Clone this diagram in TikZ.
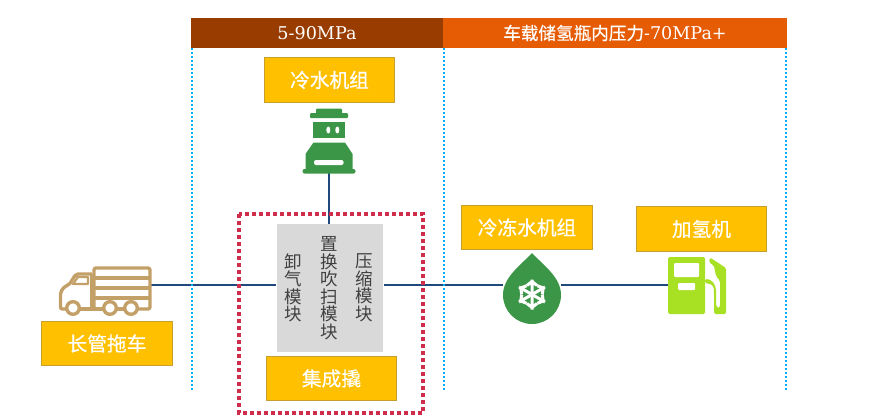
\documentclass[tikz,border=0pt]{standalone}
\usepackage{fontspec}
\setmainfont{DejaVu Serif}
\newfontfamily\cjk{Noto Sans CJK SC}
\newfontfamily\cjkheavy[FakeBold=0.5]{Noto Sans CJK SC}
\definecolor{headbrown}{HTML}{993C00}
\definecolor{headorange}{HTML}{E65C05}
\definecolor{labelgold}{HTML}{FFC000}
\definecolor{labeledge}{HTML}{C5A02E}
\definecolor{dotblue}{HTML}{00B0F0}
\definecolor{pipeblue}{HTML}{1F497D}
\definecolor{skidred}{HTML}{D02C4C}
\definecolor{modgray}{HTML}{D9D9D9}
\definecolor{iconpine}{HTML}{3C9648}
\definecolor{iconlime}{HTML}{A8E024}
\definecolor{icontan}{HTML}{C4A069}
\begin{document}
\begin{tikzpicture}[x=1pt,y=-1pt,
    headbar/.style={minimum height=30pt,inner sep=0pt,text=white,font=\fontsize{17.6}{18}\selectfont},
    label/.style={draw=labeledge,line width=1pt,fill=labelgold,inner sep=0pt,text=white,minimum height=45pt,minimum width=130pt,font=\cjkheavy\fontsize{19.7}{20}\selectfont},
    modtext/.style={inner sep=0pt,align=center,text=black!75,font=\cjk\fontsize{17.5}{17.5}\selectfont},
    icon/.style={inner sep=0pt,minimum width=#1,minimum height=62pt},
    pipe/.style={draw=pipeblue,line width=2.2pt},
    zone/.style={draw=dotblue,line width=2pt,dash pattern=on 2pt off 2pt}]
    \useasboundingbox (0,0) rectangle (871,418);
    % Header bars
    \node[headbar,fill=headbrown,minimum width=252pt] (lowbar) at (317,33) {5-90MPa};
    \node[headbar,fill=headorange,minimum width=344pt] (highbar) at (615,33) {{\cjkheavy 车载储氢瓶内压力}-70MPa+};
    % Module block and icon anchors
    \node[fill=modgray,inner sep=0pt,minimum width=106pt,minimum height=128pt] (modules) at (330,288) {};
    \node[modtext] (unload) at (293,288) {卸\\气\\模\\块};
    \node[modtext] (purge) at (329,288) {置\\换\\吹\\扫\\模\\块};
    \node[modtext] (compress) at (364,288) {压\\缩\\模\\块};
    \node[icon=92pt] (truck) at (105,285) {};
    \node[icon=58pt] (drop) at (532,285) {};
    \node[icon=58pt] (pump) at (697,285) {};
    \node[inner sep=0pt,minimum width=52pt,minimum height=65pt] (chiller) at (329,140.5) {};
    % Pipes
    \draw[pipe] (chiller.south) -- (chiller.south |- modules.north);
    \draw[pipe] (truck.east) -- ([xshift=-1pt]truck.east -| modules.west);
    \draw[pipe] ([xshift=1pt]truck.east -| modules.east) -- (drop.west);
    \draw[pipe] (drop.east) -- (pump.west);
    % Zone lines and skid outline
    \draw[zone] (lowbar.south west) ++(1,0) -- ++(0,343);
    \draw[zone] (lowbar.south east) ++(1,0) -- ++(0,343);
    \draw[zone] (highbar.south east) ++(-1,0) -- ++(0,343);
    \draw[skidred,line width=4pt,dash pattern=on 4pt off 3pt] (238.5,214) rectangle (422.5,413);
    % Labels
    \node[label] (chillerlabel) at (329.5,80) {冷水机组};
    \node[label,minimum height=44pt] (skidlabel) at (331.5,378.5) {集成撬};
    \node[label,minimum height=44pt,minimum width=131pt] (trucklabel) at (107,343.5) {长管拖车};
    \node[label,minimum height=44pt,minimum width=131pt] (freezerlabel) at (527,227.5) {冷冻水机组};
    \node[label] (pumplabel) at (701.5,229) {加氢机};
    % Chiller icon
    \fill[iconpine,rounded corners=1pt] (316,108.5) rectangle (342,114) (310,113) rectangle (348,118);
    \fill[iconpine] (313,122) rectangle (345,138);
    \fill[white] (328.3,130) ellipse (2 and 3.5) (337.3,130) ellipse (2 and 3.5);
    \fill[iconpine] (313.5,142.5) -- (345,142.5) -- (352.5,154) -- (352.5,170) -- (305.5,170) -- (305.5,154) -- cycle;
    \fill[iconpine,rounded corners=2pt] (302.5,169) rectangle (355.5,173.5);
    \fill[white,rounded corners=2pt] (314,160) rectangle (343.5,165);
    % Truck icon
    \begin{scope}[icontan,line width=3.4pt,line join=round]
        \draw[rounded corners=2pt] (94,268) rectangle (150,309);
        \draw (94,278) -- (150,278) (94,288) -- (150,288) (94,298) -- (150,298);
        \draw[rounded corners=2pt] (92,274) -- (76,274) -- (69,285) -- (65,286) -- (60.5,292) -- (60.5,309) -- (66,309);
        \draw (92,274) -- (92,309) (80,309) -- (104,309) (117,309) -- (124,309);
        \draw[line width=2.2pt] (73,284) -- (78,277) -- (88,277) -- (88,284) -- cycle;
        \draw[fill=white] (73,308) circle (6.3) (110,308) circle (6.3) (131,308) circle (6.3);
    \end{scope}
    % Drop icon
    \fill[iconpine] (532,253) .. controls (521,265) and (503,277) .. (503,295)
        .. controls (503,311) and (516,324) .. (532,324)
        .. controls (548,324) and (561,311) .. (561,295)
        .. controls (561,277) and (543,265) .. (532,253) -- cycle;
    \foreach \ang in {30,90,...,330} {
        \draw[white,line width=3pt,rotate around={\ang:(532,294.5)}] (532,294.5) -- (547,294.5)
            (541,289.5) -- (545,294.5) -- (541,299.5);
    }
    % Pump icon
    \fill[iconlime,rounded corners=1.5pt] (668,257) rectangle (705,314);
    \fill[white,rounded corners=1pt] (674,263) rectangle (699,277) (678,283) rectangle (695,290);
    \fill[iconlime,rounded corners=1.5pt] (705,283) -- (710,284) .. controls (714,286) and (714,290) .. (714,296) -- (714,314)
        -- (726,314) -- (726,268) -- (710,257.5) -- (709,262) -- (714,266) -- (716,276) -- (720,281) -- (720,306) -- (719,308.5) -- (716,306) -- (716,292)
        .. controls (716,285) and (712,279) .. (705,279) -- cycle;
\end{tikzpicture}
\end{document}
